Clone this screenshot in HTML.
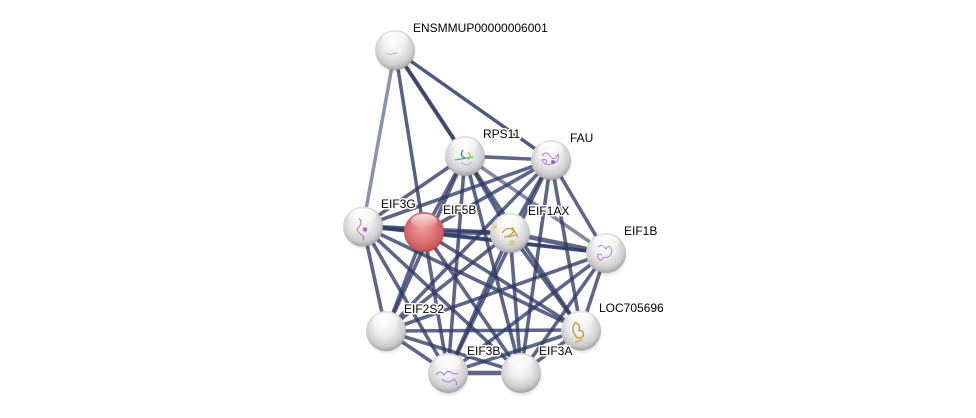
<!DOCTYPE html>
<html><head><meta charset="utf-8"><style>
html,body{margin:0;padding:0;background:#fff;}
svg{display:block;}
text{font-family:"Liberation Sans",Arial,sans-serif;font-size:12px;fill:#000;paint-order:stroke;stroke:#fff;stroke-width:3px;stroke-linejoin:round;}
</style></head><body>
<svg width="976" height="418" viewBox="0 0 976 418" xmlns="http://www.w3.org/2000/svg">
<defs>
<radialGradient id="gg" cx="0.48" cy="0.42" r="0.6" fx="0.45" fy="0.3">
<stop offset="0" stop-color="#ffffff"/>
<stop offset="0.45" stop-color="#ededed"/>
<stop offset="0.8" stop-color="#cdcdcd"/>
<stop offset="0.95" stop-color="#a8a8a8"/>
<stop offset="1" stop-color="#8a8a8a"/>
</radialGradient>
<radialGradient id="rg" cx="0.48" cy="0.45" r="0.6" fx="0.45" fy="0.35">
<stop offset="0" stop-color="#f2a4a4"/>
<stop offset="0.5" stop-color="#e07878"/>
<stop offset="0.85" stop-color="#c85a5a"/>
<stop offset="1" stop-color="#8e3838"/>
</radialGradient>
<linearGradient id="hl" x1="0" y1="0" x2="0" y2="1">
<stop offset="0" stop-color="#fff" stop-opacity="0.95"/>
<stop offset="1" stop-color="#fff" stop-opacity="0"/>
</linearGradient>
<radialGradient id="sh" cx="0.5" cy="0.5" r="0.5">
<stop offset="0.6" stop-color="#000" stop-opacity="0.25"/>
<stop offset="1" stop-color="#000" stop-opacity="0"/>
</radialGradient>
</defs>

<g stroke-linecap="butt" fill="none">
<!-- ENSMMUP edges -->
<line x1="395" y1="50" x2="363" y2="226" stroke="#8a92ae" stroke-width="3.5"/>
<line x1="395" y1="50" x2="424" y2="232" stroke="#56618a" stroke-width="3.5"/>
<line x1="395" y1="50" x2="465" y2="156" stroke="#3c4870" stroke-width="4"/>
<line x1="395" y1="50" x2="551" y2="160" stroke="#4e5a80" stroke-width="3.5"/>
</g>
<g stroke="#2f3b66" stroke-opacity="0.78" stroke-width="3.6" fill="none">
<!-- R -->
<line x1="465" y1="156" x2="551" y2="160"/>
<line x1="465" y1="156" x2="363" y2="226"/>
<line x1="465" y1="156" x2="424" y2="232"/>
<line x1="465" y1="156" x2="510" y2="233"/>
<line x1="465" y1="156" x2="606" y2="253" stroke-opacity="0.6"/>
<line x1="465" y1="156" x2="386" y2="331"/>
<line x1="465" y1="156" x2="581" y2="330"/>
<line x1="465" y1="156" x2="448" y2="373"/>
<line x1="465" y1="156" x2="521" y2="373"/>
<!-- F -->
<line x1="551" y1="160" x2="363" y2="226"/>
<line x1="551" y1="160" x2="424" y2="232"/>
<line x1="551" y1="160" x2="510" y2="233"/>
<line x1="551" y1="160" x2="606" y2="253"/>
<line x1="551" y1="160" x2="386" y2="331"/>
<line x1="551" y1="160" x2="581" y2="330"/>
<line x1="551" y1="160" x2="448" y2="373"/>
<line x1="551" y1="160" x2="521" y2="373"/>
<!-- G -->
<line x1="363" y1="226" x2="424" y2="232" stroke-width="4.5"/>
<line x1="363" y1="226" x2="510" y2="233"/>
<line x1="363" y1="226" x2="606" y2="253"/>
<line x1="363" y1="226" x2="386" y2="331"/>
<line x1="363" y1="226" x2="581" y2="330"/>
<line x1="363" y1="226" x2="448" y2="373"/>
<line x1="363" y1="226" x2="521" y2="373"/>
<!-- B5 -->
<line x1="424" y1="232" x2="510" y2="233" stroke-width="4.5"/>
<line x1="424" y1="232" x2="606" y2="253"/>
<line x1="424" y1="232" x2="386" y2="331"/>
<line x1="424" y1="232" x2="581" y2="330"/>
<line x1="424" y1="232" x2="448" y2="373"/>
<line x1="424" y1="232" x2="521" y2="373"/>
<!-- AX -->
<line x1="510" y1="233" x2="606" y2="253" stroke-width="4.5"/>
<line x1="510" y1="233" x2="386" y2="331"/>
<line x1="510" y1="233" x2="581" y2="330"/>
<line x1="510" y1="233" x2="448" y2="373"/>
<line x1="510" y1="233" x2="521" y2="373"/>
<!-- 1B -->
<line x1="606" y1="253" x2="386" y2="331"/>
<line x1="606" y1="253" x2="581" y2="330"/>
<line x1="606" y1="253" x2="448" y2="373"/>
<line x1="606" y1="253" x2="521" y2="373"/>
<!-- S2 -->
<line x1="386" y1="331" x2="581" y2="330"/>
<line x1="386" y1="331" x2="448" y2="373"/>
<line x1="386" y1="331" x2="521" y2="373"/>
<!-- L -->
<line x1="581" y1="330" x2="448" y2="373"/>
<line x1="581" y1="330" x2="521" y2="373"/>
<!-- 3B-3A -->
<line x1="448" y1="373" x2="521" y2="373" stroke-width="4.5"/>
</g>

<!-- nodes -->
<g>
<g transform="translate(395,50)"><ellipse cx="1" cy="3" rx="21" ry="21" fill="url(#sh)"/><circle r="20" fill="url(#gg)"/><ellipse cx="0" cy="-11" rx="13" ry="7" fill="url(#hl)"/><path d="M-8 3 q3 3 6 0 q2 2 4 -1" stroke="#c090e0" stroke-width="0.8" fill="none"/></g>
<g transform="translate(465,156)"><ellipse cx="1" cy="3" rx="21" ry="21" fill="url(#sh)"/><circle r="20" fill="url(#gg)"/><ellipse cx="0" cy="-11" rx="13" ry="7" fill="url(#hl)"/><path d="M-10 4 l18 -3" stroke="#40c060" stroke-width="1.2"/><path d="M-2 -6 q-4 6 2 8" stroke="#4060e0" stroke-width="1.2" fill="none"/><path d="M3 -4 q4 4 0 8" stroke="#e0b020" stroke-width="1.2" fill="none"/><path d="M-4 6 q6 6 10 0" stroke="#a0a0e0" stroke-width="0.8" fill="none"/></g>
<g transform="translate(551,160)"><ellipse cx="1" cy="3" rx="21" ry="21" fill="url(#sh)"/><circle r="20" fill="url(#gg)"/><ellipse cx="0" cy="-11" rx="13" ry="7" fill="url(#hl)"/><path d="M-9 -4 q4 -6 8 0 q4 6 8 -2 q2 8 -6 10 q-8 2 -10 -4 q6 -2 4 4" stroke="#b070d0" stroke-width="0.9" fill="none"/><circle cx="2" cy="2" r="2" fill="#a060c8"/></g>
<g transform="translate(363,226.5)"><ellipse cx="1" cy="3" rx="21" ry="21" fill="url(#sh)"/><circle r="20" fill="url(#gg)"/><ellipse cx="0" cy="-11" rx="13" ry="7" fill="url(#hl)"/><path d="M-4 -8 q4 4 0 8 q-4 4 2 8 q4 2 2 6" stroke="#b070d0" stroke-width="1" fill="none"/><circle cx="2" cy="3" r="2.2" fill="#b060e0"/></g>
<g transform="translate(424,232)"><ellipse cx="1" cy="3" rx="21.5" ry="21.5" fill="url(#sh)"/><circle r="20" fill="url(#rg)"/><ellipse cx="0" cy="-11" rx="13" ry="7" fill="url(#hl)" opacity="0.85"/></g>
<g transform="translate(510,233)"><ellipse cx="1" cy="3" rx="21" ry="21" fill="url(#sh)"/><circle r="20" fill="url(#gg)"/><ellipse cx="0" cy="-11" rx="13" ry="7" fill="url(#hl)"/><path d="M-8 0 q6 -8 12 -2 q-4 6 -10 6 M2 -6 l6 10 M-2 4 l8 -2" stroke="#c8a040" stroke-width="1.3" fill="none"/><circle cx="2" cy="10" r="2" fill="none" stroke="#c8b040" stroke-width="1"/><circle cx="-15" cy="-6" r="2" fill="#e8d060"/></g>
<g transform="translate(606,253)"><ellipse cx="1" cy="3" rx="21" ry="21" fill="url(#sh)"/><circle r="20" fill="url(#gg)"/><ellipse cx="0" cy="-11" rx="13" ry="7" fill="url(#hl)"/><path d="M-8 -6 q4 -4 8 2 q4 -6 6 2 q-2 8 -8 6 q-4 6 -6 0 q-2 -4 4 -2" stroke="#b070d0" stroke-width="0.9" fill="none"/></g>
<g transform="translate(386,331)"><ellipse cx="1" cy="3" rx="21" ry="21" fill="url(#sh)"/><circle r="20" fill="url(#gg)"/><ellipse cx="0" cy="-11" rx="13" ry="7" fill="url(#hl)"/></g>
<g transform="translate(581,330.5)"><ellipse cx="1" cy="3" rx="21" ry="21" fill="url(#sh)"/><circle r="20" fill="url(#gg)"/><ellipse cx="0" cy="-11" rx="13" ry="7" fill="url(#hl)"/><path d="M-6 -8 q6 2 4 8 q6 0 4 6 q-6 4 -8 -2 q-4 -4 0 -12" stroke="#c8a040" stroke-width="1.5" fill="none"/><path d="M-6 12 l8 -3" stroke="#c8a040" stroke-width="1"/></g>
<g transform="translate(448,373)"><ellipse cx="1" cy="3" rx="21" ry="21" fill="url(#sh)"/><circle r="20" fill="url(#gg)"/><ellipse cx="0" cy="-11" rx="13" ry="7" fill="url(#hl)"/><path d="M-12 2 q4 -6 8 0 q4 -6 8 -2 q4 2 6 0 M-6 6 q6 6 12 0 q4 4 2 6" stroke="#b070d0" stroke-width="1" fill="none"/></g>
<g transform="translate(521,373)"><ellipse cx="1" cy="3" rx="21" ry="21" fill="url(#sh)"/><circle r="20" fill="url(#gg)"/><ellipse cx="0" cy="-11" rx="13" ry="7" fill="url(#hl)"/></g>
</g>

<!-- labels -->
<text x="413" y="32">ENSMMUP00000006001</text>
<text x="483" y="138">RPS11</text>
<text x="570" y="142">FAU</text>
<text x="381" y="208">EIF3G</text>
<text x="443" y="214">EIF5B</text>
<text x="528" y="215">EIF1AX</text>
<text x="624" y="235">EIF1B</text>
<text x="599" y="312">LOC705696</text>
<text x="404" y="313">EIF2S2</text>
<text x="467" y="355">EIF3B</text>
<text x="539" y="355">EIF3A</text>
</svg>
</body></html>
